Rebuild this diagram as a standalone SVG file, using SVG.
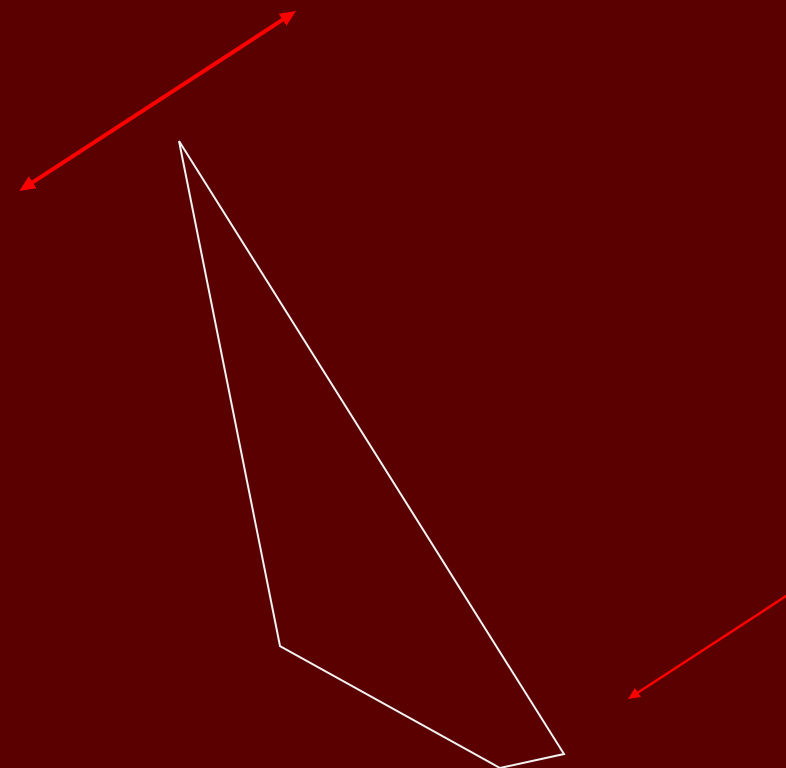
<svg xmlns="http://www.w3.org/2000/svg" width="786" height="768" viewBox="0 0 786 768">
<style>
.conn{stroke:#ff0000;fill:none}
.shape{stroke:#f2f2f2;fill:none;stroke-width:2;stroke-linejoin:miter}
</style>
<defs>
<marker id="headBig" markerUnits="userSpaceOnUse" markerWidth="18" markerHeight="16" refX="8" refY="7" orient="auto-start-reverse" viewBox="0 0 18 16">
<path d="M0,0 L16,7 L0,14 z" fill="#ff0000"/>
</marker>
<marker id="headSmall" markerUnits="userSpaceOnUse" markerWidth="14" markerHeight="12" refX="6" refY="5.5" orient="auto-start-reverse" viewBox="0 0 14 12">
<path d="M0,0 L12,5.5 L0,11 z" fill="#ff0000"/>
</marker>
</defs>
<rect x="0" y="0" width="786" height="768" fill="#5a0000"/>
<g id="shape1">
<polygon class="shape" points="179,141 280,646 500,768 564,754"/>
</g>
<g id="connectors">
<line class="conn" stroke-width="4" x1="26" y1="186.6" x2="289.3" y2="15.4" marker-start="url(#headBig)" marker-end="url(#headBig)"/>
<line class="conn" stroke-width="2.5" x1="800" y1="587" x2="633" y2="695.7" marker-end="url(#headSmall)"/>
</g>
</svg>
